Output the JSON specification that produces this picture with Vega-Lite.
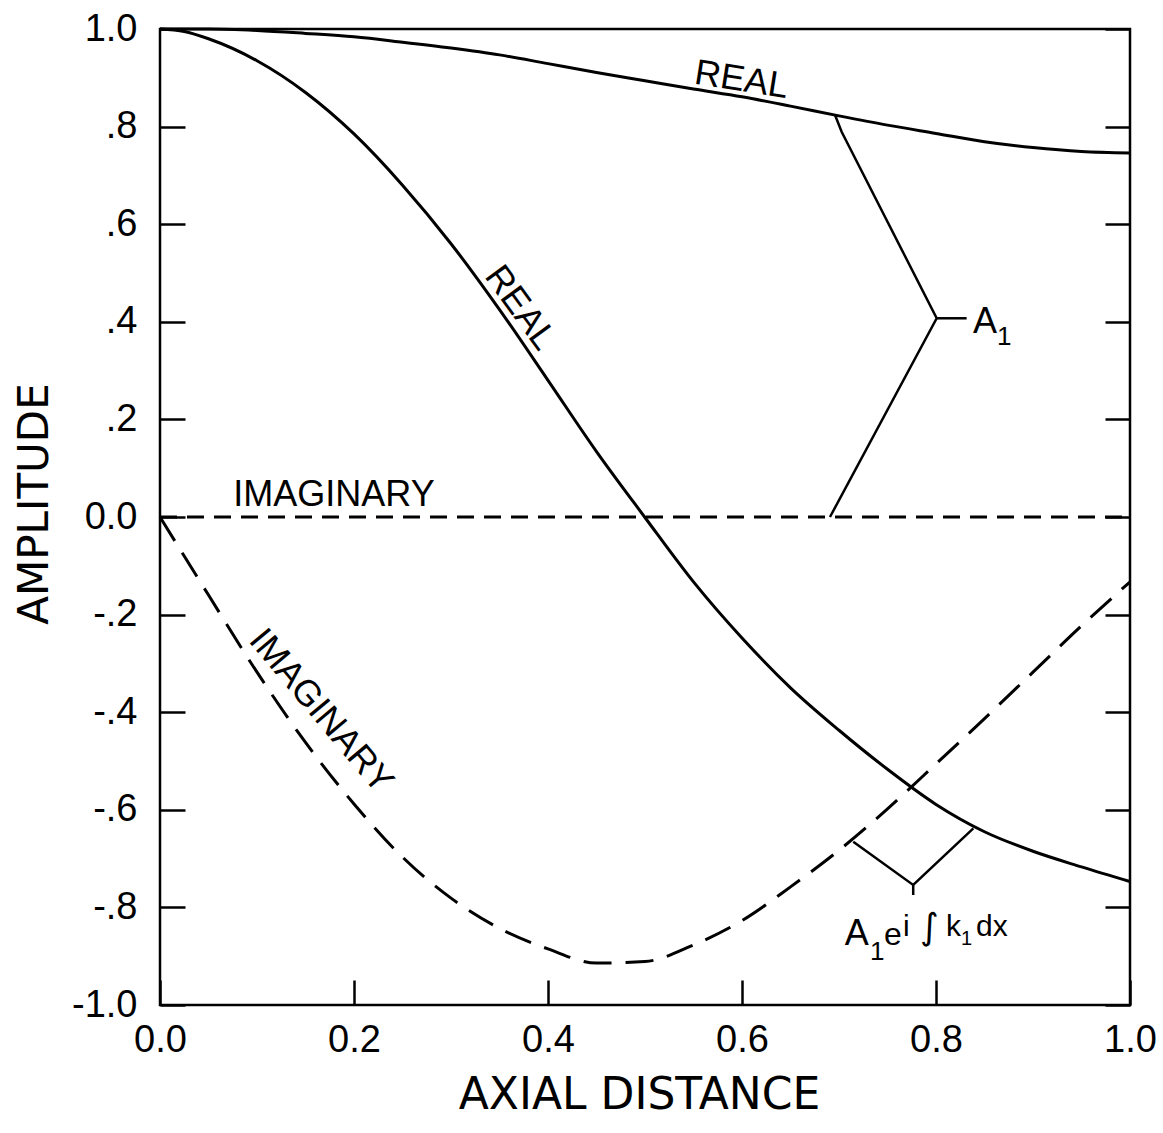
{
  "$schema": "https://vega.github.io/schema/vega-lite/v6.json",
  "width": 970,
  "height": 976,
  "autosize": {"type": "none"},
  "padding": {"left": 160, "top": 29, "right": 33, "bottom": 128},
  "background": "white",
  "config": {
    "view": {"stroke": "black", "strokeWidth": 2.5},
    "font": "Liberation Sans"
  },
  "datasets": {
    "curves": [
      {"series": "A1 real", "x": 0.0, "y": 1.0},
      {"series": "A1 real", "x": 0.05, "y": 1.0},
      {"series": "A1 real", "x": 0.1, "y": 0.997},
      {"series": "A1 real", "x": 0.15, "y": 0.991},
      {"series": "A1 real", "x": 0.2, "y": 0.984},
      {"series": "A1 real", "x": 0.25, "y": 0.973},
      {"series": "A1 real", "x": 0.3, "y": 0.961},
      {"series": "A1 real", "x": 0.35, "y": 0.947},
      {"series": "A1 real", "x": 0.4, "y": 0.929},
      {"series": "A1 real", "x": 0.45, "y": 0.911},
      {"series": "A1 real", "x": 0.5, "y": 0.894},
      {"series": "A1 real", "x": 0.55, "y": 0.877},
      {"series": "A1 real", "x": 0.6, "y": 0.861},
      {"series": "A1 real", "x": 0.65, "y": 0.842},
      {"series": "A1 real", "x": 0.7, "y": 0.822},
      {"series": "A1 real", "x": 0.75, "y": 0.803},
      {"series": "A1 real", "x": 0.8, "y": 0.786},
      {"series": "A1 real", "x": 0.85, "y": 0.769},
      {"series": "A1 real", "x": 0.9, "y": 0.757},
      {"series": "A1 real", "x": 0.95, "y": 0.749},
      {"series": "A1 real", "x": 1.0, "y": 0.746},
      {"series": "A1 imaginary", "x": 0.0, "y": 0.0},
      {"series": "A1 imaginary", "x": 1.0, "y": 0.0},
      {"series": "A1 exp(i∫k1dx) real", "x": 0.0, "y": 1.0},
      {"series": "A1 exp(i∫k1dx) real", "x": 0.025, "y": 0.995},
      {"series": "A1 exp(i∫k1dx) real", "x": 0.05, "y": 0.98},
      {"series": "A1 exp(i∫k1dx) real", "x": 0.1, "y": 0.935},
      {"series": "A1 exp(i∫k1dx) real", "x": 0.15, "y": 0.87},
      {"series": "A1 exp(i∫k1dx) real", "x": 0.2, "y": 0.785},
      {"series": "A1 exp(i∫k1dx) real", "x": 0.25, "y": 0.68},
      {"series": "A1 exp(i∫k1dx) real", "x": 0.3, "y": 0.56},
      {"series": "A1 exp(i∫k1dx) real", "x": 0.35, "y": 0.425},
      {"series": "A1 exp(i∫k1dx) real", "x": 0.4, "y": 0.28},
      {"series": "A1 exp(i∫k1dx) real", "x": 0.45, "y": 0.134},
      {"series": "A1 exp(i∫k1dx) real", "x": 0.5, "y": -0.001},
      {"series": "A1 exp(i∫k1dx) real", "x": 0.55, "y": -0.133},
      {"series": "A1 exp(i∫k1dx) real", "x": 0.6, "y": -0.248},
      {"series": "A1 exp(i∫k1dx) real", "x": 0.65, "y": -0.35},
      {"series": "A1 exp(i∫k1dx) real", "x": 0.7, "y": -0.437},
      {"series": "A1 exp(i∫k1dx) real", "x": 0.75, "y": -0.517},
      {"series": "A1 exp(i∫k1dx) real", "x": 0.8, "y": -0.589},
      {"series": "A1 exp(i∫k1dx) real", "x": 0.85, "y": -0.645},
      {"series": "A1 exp(i∫k1dx) real", "x": 0.9, "y": -0.685},
      {"series": "A1 exp(i∫k1dx) real", "x": 0.95, "y": -0.717},
      {"series": "A1 exp(i∫k1dx) real", "x": 1.0, "y": -0.747},
      {"series": "A1 exp(i∫k1dx) imaginary", "x": 0.0, "y": 0.0},
      {"series": "A1 exp(i∫k1dx) imaginary", "x": 0.05, "y": -0.16},
      {"series": "A1 exp(i∫k1dx) imaginary", "x": 0.1, "y": -0.318},
      {"series": "A1 exp(i∫k1dx) imaginary", "x": 0.15, "y": -0.462},
      {"series": "A1 exp(i∫k1dx) imaginary", "x": 0.2, "y": -0.588},
      {"series": "A1 exp(i∫k1dx) imaginary", "x": 0.25, "y": -0.697},
      {"series": "A1 exp(i∫k1dx) imaginary", "x": 0.3, "y": -0.781},
      {"series": "A1 exp(i∫k1dx) imaginary", "x": 0.35, "y": -0.843},
      {"series": "A1 exp(i∫k1dx) imaginary", "x": 0.4, "y": -0.885},
      {"series": "A1 exp(i∫k1dx) imaginary", "x": 0.45, "y": -0.914},
      {"series": "A1 exp(i∫k1dx) imaginary", "x": 0.5, "y": -0.911},
      {"series": "A1 exp(i∫k1dx) imaginary", "x": 0.55, "y": -0.877},
      {"series": "A1 exp(i∫k1dx) imaginary", "x": 0.6, "y": -0.827},
      {"series": "A1 exp(i∫k1dx) imaginary", "x": 0.65, "y": -0.758},
      {"series": "A1 exp(i∫k1dx) imaginary", "x": 0.7, "y": -0.683},
      {"series": "A1 exp(i∫k1dx) imaginary", "x": 0.75, "y": -0.598},
      {"series": "A1 exp(i∫k1dx) imaginary", "x": 0.8, "y": -0.506},
      {"series": "A1 exp(i∫k1dx) imaginary", "x": 0.85, "y": -0.413},
      {"series": "A1 exp(i∫k1dx) imaginary", "x": 0.9, "y": -0.318},
      {"series": "A1 exp(i∫k1dx) imaginary", "x": 0.95, "y": -0.223},
      {"series": "A1 exp(i∫k1dx) imaginary", "x": 1.0, "y": -0.133}
    ],
    "pointers": [
      {"g": "A1", "o": 1, "x": 0.6959, "y": 0.8238},
      {"g": "A1", "o": 2, "x": 0.7027, "y": 0.7895},
      {"g": "A1", "o": 3, "x": 0.8007, "y": 0.4072},
      {"g": "A1", "o": 4, "x": 0.6907, "y": 0.0},
      {"g": "A1 tick", "o": 1, "x": 0.8007, "y": 0.4072},
      {"g": "A1 tick", "o": 2, "x": 0.8316, "y": 0.4072},
      {"g": "A1e", "o": 1, "x": 0.7147, "y": -0.6654},
      {"g": "A1e", "o": 2, "x": 0.7765, "y": -0.7541},
      {"g": "A1e", "o": 3, "x": 0.8385, "y": -0.6379},
      {"g": "A1e stem", "o": 1, "x": 0.7765, "y": -0.7541},
      {"g": "A1e stem", "o": 2, "x": 0.7765, "y": -0.7746}
    ]
  },
  "resolve": {"axis": {"y": "independent"}},
  "layer": [
    {
      "data": {"name": "curves"},
      "transform": [{"filter": "datum.series == 'A1 real' || datum.series == 'A1 exp(i∫k1dx) real'"}],
      "mark": {"type": "line", "color": "black", "strokeWidth": 3, "interpolate": "monotone"},
      "encoding": {
        "x": {
          "field": "x", "type": "quantitative",
          "scale": {"domain": [0, 1], "nice": false, "zero": false},
          "axis": {
            "values": [0, 0.2, 0.4, 0.6, 0.8, 1],
            "format": ".1f",
            "domain": false, "grid": false,
            "tickSize": -25, "tickWidth": 2.5, "tickColor": "black",
            "labelFont": "Liberation Sans", "labelFontSize": 38, "labelColor": "black",
            "labelPadding": 41, "labelBaseline": "top", "labelAlign": "center",
            "labelFlush": false, "labelOverlap": false,
            "title": "AXIAL DISTANCE",
            "titleFont": "DejaVu Sans", "titleFontSize": 44, "titleFontWeight": "normal", "titleColor": "black",
            "titleX": 479, "titleY": 103, "titleAlign": "center", "titleBaseline": "alphabetic"
          }
        },
        "y": {
          "field": "y", "type": "quantitative",
          "scale": {"domain": [-1, 1], "nice": false, "zero": false},
          "axis": {
            "orient": "left",
            "values": [-1, -0.8, -0.6, -0.4, -0.2, 0, 0.2, 0.4, 0.6, 0.8, 1],
            "labelExpr": "datum.value == 0 ? '0.0' : (datum.value < 0 ? '-' : '') + (abs(datum.value) > 0.99 ? '1.0' : '.' + round(abs(datum.value) * 10))",
            "domain": false, "grid": false,
            "tickSize": -25, "tickWidth": 2.5, "tickColor": "black",
            "labelFont": "Liberation Sans", "labelFontSize": 38, "labelColor": "black",
            "labelPadding": 48, "labelAlign": "right", "labelBaseline": "middle",
            "labelFlush": false, "labelOverlap": false,
            "title": "AMPLITUDE",
            "titleFont": "DejaVu Sans", "titleFontSize": 42, "titleFontWeight": "normal", "titleColor": "black",
            "titleAngle": -90, "titleX": -113, "titleY": 474.5, "titleAlign": "center", "titleBaseline": "alphabetic"
          }
        },
        "detail": {"field": "series"}
      }
    },
    {
      "data": {"name": "curves"},
      "transform": [{"filter": "datum.series == 'A1 imaginary'"}],
      "mark": {"type": "line", "color": "black", "strokeWidth": 3, "strokeDash": [17, 10]},
      "encoding": {
        "x": {"field": "x", "type": "quantitative"},
        "y": {
          "field": "y", "type": "quantitative",
          "axis": {
            "orient": "right",
            "values": [-1, -0.8, -0.6, -0.4, -0.2, 0, 0.2, 0.4, 0.6, 0.8, 1],
            "labels": false, "domain": false, "grid": false,
            "tickSize": -25, "tickWidth": 2.5, "tickColor": "black",
            "title": null
          }
        }
      }
    },
    {
      "data": {"name": "curves"},
      "transform": [{"filter": "datum.series == 'A1 exp(i∫k1dx) imaginary'"}],
      "mark": {"type": "line", "color": "black", "strokeWidth": 3, "strokeDash": [28, 14], "interpolate": "monotone"},
      "encoding": {
        "x": {"field": "x", "type": "quantitative"},
        "y": {"field": "y", "type": "quantitative", "axis": null}
      }
    },
    {
      "data": {"name": "pointers"},
      "mark": {"type": "line", "color": "black", "strokeWidth": 2.5},
      "encoding": {
        "x": {"field": "x", "type": "quantitative"},
        "y": {"field": "y", "type": "quantitative", "axis": null},
        "detail": {"field": "g"},
        "order": {"field": "o"}
      }
    },
    {
      "data": {"values": [{"text": "REAL", "x": 0.5995, "y": 0.8955}]},
      "mark": {"type": "text", "font": "Liberation Sans", "fontSize": 36, "angle": 9, "align": "center", "baseline": "middle", "color": "black"},
      "encoding": {
        "x": {"field": "x", "type": "quantitative"},
        "y": {"field": "y", "type": "quantitative", "axis": null},
        "text": {"field": "text"}
      }
    },
    {
      "data": {"values": [{"text": "REAL", "x": 0.3715, "y": 0.4285}]},
      "mark": {"type": "text", "font": "Liberation Sans", "fontSize": 36, "angle": 54, "align": "center", "baseline": "middle", "color": "black"},
      "encoding": {
        "x": {"field": "x", "type": "quantitative"},
        "y": {"field": "y", "type": "quantitative", "axis": null},
        "text": {"field": "text"}
      }
    },
    {
      "data": {"values": [{"text": "IMAGINARY", "x": 0.1794, "y": 0.0461}]},
      "mark": {"type": "text", "font": "Liberation Sans", "fontSize": 36, "angle": 0, "align": "center", "baseline": "middle", "color": "black"},
      "encoding": {
        "x": {"field": "x", "type": "quantitative"},
        "y": {"field": "y", "type": "quantitative", "axis": null},
        "text": {"field": "text"}
      }
    },
    {
      "data": {"values": [{"text": "IMAGINARY", "x": 0.166, "y": -0.3975}]},
      "mark": {"type": "text", "font": "Liberation Sans", "fontSize": 36, "angle": 50, "align": "center", "baseline": "middle", "color": "black"},
      "encoding": {
        "x": {"field": "x", "type": "quantitative"},
        "y": {"field": "y", "type": "quantitative", "axis": null},
        "text": {"field": "text"}
      }
    },
    {
      "data": {"values": [
        {"text": "A", "x": 0.8381, "y": 0.377},
        {"text": "A", "x": 0.706, "y": -0.877}
      ]},
      "mark": {"type": "text", "font": "Liberation Sans", "fontSize": 36, "align": "left", "baseline": "alphabetic", "color": "black"},
      "encoding": {
        "x": {"field": "x", "type": "quantitative"},
        "y": {"field": "y", "type": "quantitative", "axis": null},
        "text": {"field": "text"}
      }
    },
    {
      "data": {"values": [{"text": "e", "x": 0.7464, "y": -0.877}]},
      "mark": {"type": "text", "font": "Liberation Sans", "fontSize": 32, "align": "left", "baseline": "alphabetic", "color": "black"},
      "encoding": {
        "x": {"field": "x", "type": "quantitative"},
        "y": {"field": "y", "type": "quantitative", "axis": null},
        "text": {"field": "text"}
      }
    },
    {
      "data": {"values": [
        {"text": "1", "x": 0.8629, "y": 0.352},
        {"text": "1", "x": 0.7320, "y": -0.9078}
      ]},
      "mark": {"type": "text", "font": "Liberation Sans", "fontSize": 26, "align": "left", "baseline": "alphabetic", "color": "black"},
      "encoding": {
        "x": {"field": "x", "type": "quantitative"},
        "y": {"field": "y", "type": "quantitative", "axis": null},
        "text": {"field": "text"}
      }
    },
    {
      "data": {"values": [
        {"text": "i", "x": 0.7660, "y": -0.8586},
        {"text": "k", "x": 0.8103, "y": -0.8586},
        {"text": "dx", "x": 0.8412, "y": -0.8586}
      ]},
      "mark": {"type": "text", "font": "Liberation Sans", "fontSize": 30, "align": "left", "baseline": "alphabetic", "color": "black"},
      "encoding": {
        "x": {"field": "x", "type": "quantitative"},
        "y": {"field": "y", "type": "quantitative", "axis": null},
        "text": {"field": "text"}
      }
    },
    {
      "data": {"values": [{"text": "∫", "x": 0.7835, "y": -0.864}]},
      "mark": {"type": "text", "font": "DejaVu Sans", "fontSize": 36, "align": "left", "baseline": "alphabetic", "color": "black"},
      "encoding": {
        "x": {"field": "x", "type": "quantitative"},
        "y": {"field": "y", "type": "quantitative", "axis": null},
        "text": {"field": "text"}
      }
    },
    {
      "data": {"values": [{"text": "1", "x": 0.8258, "y": -0.877}]},
      "mark": {"type": "text", "font": "Liberation Sans", "fontSize": 20, "align": "left", "baseline": "alphabetic", "color": "black"},
      "encoding": {
        "x": {"field": "x", "type": "quantitative"},
        "y": {"field": "y", "type": "quantitative", "axis": null},
        "text": {"field": "text"}
      }
    }
  ]
}
